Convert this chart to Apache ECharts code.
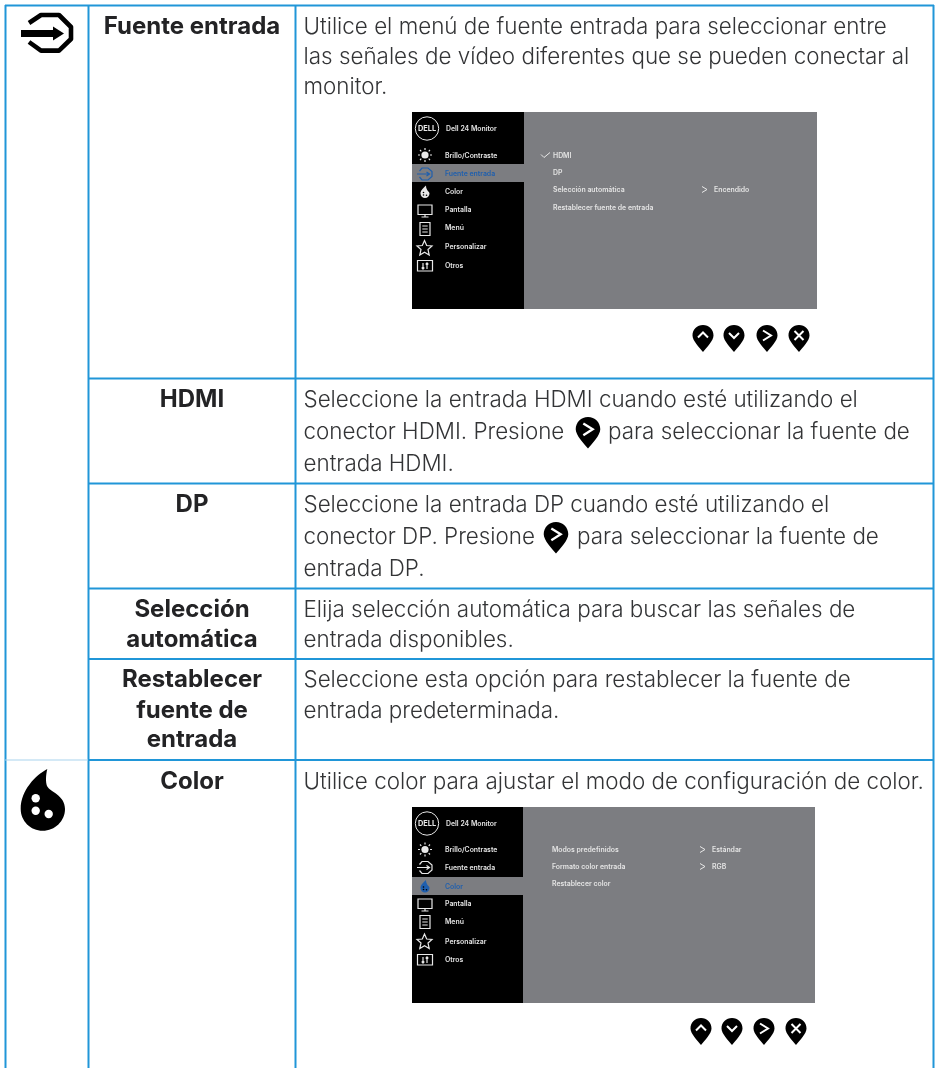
<!DOCTYPE html>
<html><head><meta charset="utf-8">
<style>html,body{margin:0;padding:0;background:#fff}#c{width:935px;height:1068px;filter:blur(.35px)}</style>
<script src="https://cdn.jsdelivr.net/npm/echarts@6/dist/echarts.min.js"></script>
</head><body><div id="c"></div>
<script>
// ---- content ----
const headings = ['Fuente entrada','HDMI','DP','Selección','automática','Restablecer','fuente de','entrada','Color'];
const bodyLines = [
 'Utilice el menú de fuente entrada para seleccionar entre',
 'las señales de vídeo diferentes que se pueden conectar al',
 'monitor.',
 'Seleccione la entrada HDMI cuando esté utilizando el',
 'conector HDMI. Presione',
 'entrada HDMI.',
 'Seleccione la entrada DP cuando esté utilizando el',
 'conector DP. Presione',
 'entrada DP.',
 'Elija selección automática para buscar las señales de',
 'entrada disponibles.',
 'Seleccione esta opción para restablecer la fuente de',
 'entrada predeterminada.',
 'Utilice color para ajustar el modo de configuración de color.'];
const afterPin = ['para seleccionar la fuente de','para seleccionar la fuente de'];
const osdTitle = 'Dell 24 Monitor';
const osdMenu = ['Brillo/Contraste','Fuente entrada','Color','Pantalla','Menú','Personalizar','Otros'];
const osd1Left = ['HDMI','DP','Selección automática','Restablecer fuente de entrada'];
const osd2Left = ['Modos predefinidos','Formato color entrada','Restablecer color'];
// ---- layout ----
const blue='#2096d8', ink='#333436', inkB='#232325';
const colX=[5.5,88.5,295.5,933.5], rowY=[5.5,378.5,483.5,588.5,659,760];
const headY=[35,408,513,618,648,688,719,748,790];
const bodyY=[35,65,95,408,440,472,513,545,577,618,648,688,719,790];
const els=[];
const bodyFont=22.4, headFont=24;
let pathCount=0;
function line(x1,y1,x2,y2,c,w){els.push({type:'line',silent:true,shape:{x1,y1,x2,y2},style:{stroke:c||blue,lineWidth:w||2,lineCap:'butt'}});}
function text(t,x,y,o){o=o||{};els.push({type:'text',silent:true,x,y,style:{text:t,fontFamily:o.fam||'Inter',fontSize:o.size||bodyFont,fontWeight:o.w||300,fill:o.fill||ink,align:o.align||'left',verticalAlign:'middle'}});}
function path(d,s,x,y,sc){
  const name='svgp'+(pathCount++);
  echarts.graphic.registerShape(name,echarts.graphic.extendPath(d,{}));
  els.push({type:name,silent:true,x:x||0,y:y||0,scaleX:sc||1,scaleY:sc||1,style:s});
}
function base(size){return size*0.36;}
// table rules
colX.forEach(x=>line(x,5,x,1068));
line(5,rowY[0],934,rowY[0]);
rowY.slice(1).forEach(y=>line(88,y,934,y));
line(5,rowY[5],88,rowY[5],'#a9d3ee',1.2);
// headings
headings.forEach((t,i)=>text(t,192,headY[i]-base(headFont),{size:headFont,w:700,fill:inkB,align:'center'}));
// body
bodyLines.forEach((t,i)=>text(t,303.5,bodyY[i]-base(bodyFont)));
text(afterPin[0],608,440-base(bodyFont));
text(afterPin[1],577,545-base(bodyFont));
// pin glyph
const pinD='M0,0C5.9,0,10.5,4.6,10.5,10.4C10.5,15.6,3.6,22.4,0,27C-3.6,22.4,-10.5,15.6,-10.5,10.4C-10.5,4.6,-5.9,0,0,0Z';
const glyphs={up:'M-5,12.5L0,7.5L5,12.5',down:'M-5,8L0,13L5,8',right:'M-4,5.5L4,10.5L-4,15.5',close:'M-4.5,6L4.5,15M4.5,6L-4.5,15'};
function pin(cx,top,k,g){
  path(pinD,{fill:'#000'},cx,top,k);
  path(glyphs[g],{fill:null,stroke:'#fff',lineWidth:2},cx,top,k);
}
['up','down','right','close'].forEach((g,i)=>pin([703,734,767,799][i],325,1,g));
['up','down','right','close'].forEach((g,i)=>pin([701,732,764,796][i],1018,1,g));
pin(588,417,1.17,'right');
pin(556,522,1.17,'right');
// big input icon
path('M29,23L41,15L59,15L71,27L71,39L59,50.6L41,50.6L29,42',{fill:null,stroke:'#000',lineWidth:4.6,lineJoin:'round'});
els.push({type:'polygon',silent:true,shape:{points:[[21,30],[53,30],[53,26.5],[64,33.5],[53,40.5],[53,37],[21,37]]},style:{fill:'#000'}});
// big drop icon
path('M47.3,769C45.8,775,45.5,782,47,786C50,792,65,795,65,809C65,821,55,830.8,42.7,830.8C30.5,830.8,20.7,821,20.7,809C20.7,790,36,775,47.3,769Z',{fill:'#000'});
[[35.7,798.3],[35.7,810.7],[48.7,814]].forEach(p=>els.push({type:'circle',silent:true,shape:{cx:p[0],cy:p[1],r:4.2},style:{fill:'#fff'}}));
// OSD panels
function osd(L,T,R,B,split,hi,hy,menuY,iconY,tx,ty,vals){
  els.push({type:'rect',silent:true,shape:{x:L,y:T,width:R-L,height:B-T},style:{fill:'#7c7d81'}});
  els.push({type:'rect',silent:true,shape:{x:L,y:T,width:split-L,height:B-T},style:{fill:'#000'}});
  els.push({type:'rect',silent:true,shape:{x:L,y:hy,width:split-L,height:18},style:{fill:'#7c7d81'}});
  const o={size:6.9,w:600,fill:'#e4e4e4'};
  const cx=L+13;
  els.push({type:'circle',silent:true,shape:{cx:L+15,cy:T+16.5,r:11.7},style:{fill:'#000',stroke:'#e8e8e8',lineWidth:1}});
  text('DELL',L+15,T+16.5,{size:7.4,w:700,fill:'#e8e8e8',align:'center'});
  text(osdTitle,L+34,T+16.5,o);
  osdMenu.forEach((t,i)=>text(t,L+33,menuY[i],{size:6.9,w:600,fill:i===hi?'#1f5fae':'#e4e4e4'}));
  const col=i=>i===hi?'#1f5fae':'#e8e8e8';
  const s=i=>({fill:null,stroke:col(i),lineWidth:1.2});
  let y=iconY[0];
  els.push({type:'circle',silent:true,shape:{cx:cx,cy:y,r:3.6},style:{fill:col(0)}});
  path('M0,-7L0,-5M0,5L0,7M-7,0L-5,0M5,0L7,0M-5,-5L-3.7,-3.7M5,-5L3.7,-3.7M-5,5L-3.7,3.7M5,5L3.7,3.7',s(0),cx,y);
  y=iconY[1];
  path('M-5.5,-3L-3,-6L3,-6L7,-2.5L7,2.5L3,6L-3,6L-5.5,3M-8,0L4,0M1.5,-2L4.5,0L1.5,2',s(1),cx,y);
  y=iconY[2];
  path('M1,-6.5C-3,-3,-4.5,-1,-4.5,1.5C-4.5,4,-2.5,6,0,6C2.5,6,4.5,4,4.5,1.5C4.5,-0.5,1,-1.5,1,-6.5Z',{fill:col(2)},cx,y);
  [[-1.5,0.5],[-1.5,3],[1.5,3.2]].forEach(p=>els.push({type:'circle',silent:true,shape:{cx:cx+p[0],cy:y+p[1],r:.8},style:{fill:'#000'}}));
  y=iconY[3];
  path('M-7,-5L7,-5L7,4.5L-7,4.5ZM0,4.5L0,7M-3.5,7L3.5,7',s(3),cx,y);
  y=iconY[4];
  path('M-5,-6.5L5,-6.5L5,6.5L-5,6.5ZM-2.7,-3L2.7,-3M-2.7,0L2.7,0M-2.7,3L2.7,3',s(4),cx,y);
  y=iconY[5];
  path('M0,-7.5L2.2,-2.5L7.5,-2L3.5,1.5L4.7,7L0,4.2L-4.7,7L-3.5,1.5L-7.5,-2L-2.2,-2.5Z',s(5),cx-.5,y);
  y=iconY[6];
  path('M-7.5,-5.5L7.5,-5.5L7.5,5L-7.5,5ZM-2,-3L-2,3M-3.3,1.5L-2,3L-0.7,1.5M2,3L2,-3M0.7,-1.5L2,-3L3.3,-1.5',s(6),cx,y);
  vals.left.forEach((t,i)=>text(t,tx,ty[i],o));
  vals.right.forEach(v=>{
    text(v[0],vals.rx,ty[v[1]],o);
    path('M0,-3L5,0L0,3',{fill:null,stroke:'#e8e8e8',lineWidth:1},vals.rx-12,ty[v[1]]);
  });
}
osd(412,112,817,309,524,1,164,[155.5,173.5,192,209.5,228,247,266],[155,174,192,210,229,248,266],553,[155.5,172.5,189.5,207.5],
  {left:osd1Left,right:[['Encendido',2]],rx:714});
path('M0,-.5L3,2.5L9,-2.5',{fill:null,stroke:'#e8e8e8',lineWidth:1},541,155);
osd(412,807,815,1003,523,2,877,[849.5,867.5,886.5,903.5,921.5,941.5,960],[849.5,867.5,886.5,904,922,941.5,960],552,[849.5,866.5,883.5],
  {left:osd2Left,right:[['Estándar',0],['RGB',1]],rx:712});

echarts.init(document.getElementById('c'),null,{renderer:'canvas'}).setOption({animation:false,backgroundColor:'#fff',graphic:{elements:els}});
</script></body></html>
